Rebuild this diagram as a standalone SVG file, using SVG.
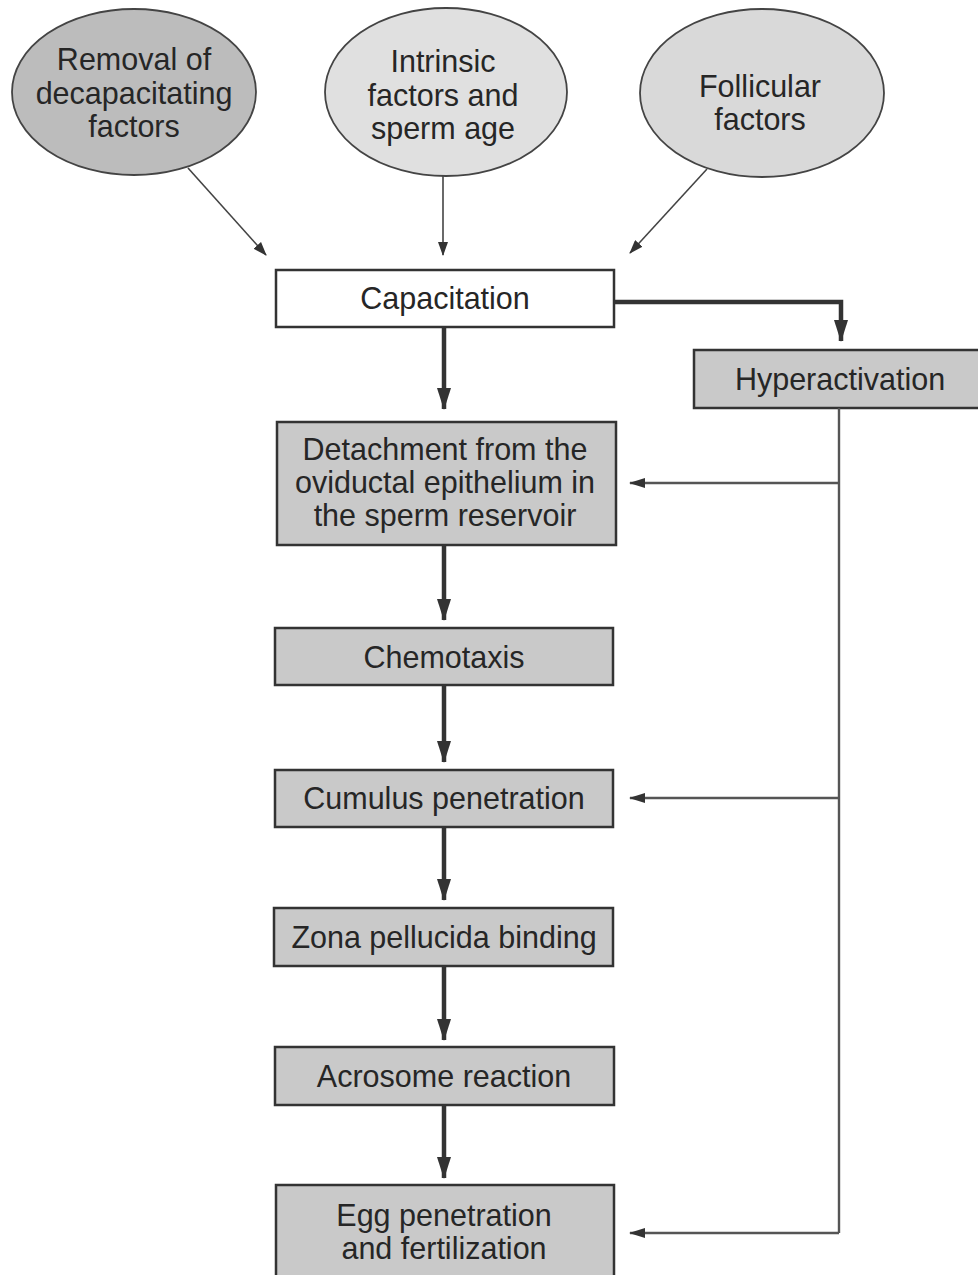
<svg xmlns="http://www.w3.org/2000/svg" width="978" height="1275" viewBox="0 0 978 1275">
<style>
text{font-family:"Liberation Sans",Arial,sans-serif;font-size:30.5px;fill:#262626;text-anchor:middle}
.box{fill:#c9c9c9;stroke:#333;stroke-width:2.5}
.ell{stroke:#444;stroke-width:1.8}
.thin{fill:none;stroke:#444;stroke-width:1.6;marker-end:url(#ah)}
.thick{fill:none;stroke:#333;stroke-width:4.5;marker-end:url(#ahb)}
.side{fill:none;stroke:#555;stroke-width:2.4}
.sidearr{fill:none;stroke:#555;stroke-width:2.4;marker-end:url(#ahs)}
</style>
<defs>
<marker id="ah" markerUnits="userSpaceOnUse" markerWidth="14" markerHeight="10" refX="13" refY="5" orient="auto"><path d="M0,0 L14,5 L0,10 z" fill="#333"/></marker>
<marker id="ahs" markerUnits="userSpaceOnUse" markerWidth="16" markerHeight="10" refX="15" refY="5" orient="auto"><path d="M0,0 L16,5 L0,10 z" fill="#333"/></marker>
<marker id="ahb" markerUnits="userSpaceOnUse" markerWidth="22" markerHeight="14" refX="21" refY="7" orient="auto"><path d="M0,0 L22,7 L0,14 z" fill="#333"/></marker>
</defs>
<rect width="978" height="1275" fill="#fff"/>
<g id="removal"><ellipse class="ell" cx="134" cy="92" rx="122" ry="83" fill="#bcbcbc"/><text x="134" y="70">Removal of</text><text x="134" y="104">decapacitating</text><text x="134" y="137">factors</text></g>
<g id="intrinsic"><ellipse class="ell" cx="446" cy="92" rx="121" ry="84" fill="#e0e0e0"/><text x="443" y="72">Intrinsic</text><text x="443" y="106">factors and</text><text x="443" y="139">sperm age</text></g>
<g id="follicular"><ellipse class="ell" cx="762" cy="93" rx="122" ry="84" fill="#d9d9d9"/><text x="760" y="97">Follicular</text><text x="760" y="130">factors</text></g>
<g id="capacitation"><rect x="276" y="270" width="338" height="57" fill="#fff" stroke="#333" stroke-width="2.5"/><text x="445" y="309">Capacitation</text></g>
<g id="hyperactivation"><rect class="box" x="694" y="350" width="300" height="58"/><text x="840" y="390">Hyperactivation</text></g>
<g id="detachment"><rect class="box" x="277" y="422" width="339" height="123"/><text x="445" y="460">Detachment from the</text><text x="445" y="493">oviductal epithelium in</text><text x="445" y="526">the sperm reservoir</text></g>
<g id="chemotaxis"><rect class="box" x="275" y="628" width="338" height="57"/><text x="444" y="668">Chemotaxis</text></g>
<g id="cumulus"><rect class="box" x="275" y="770" width="338" height="57"/><text x="444" y="809">Cumulus penetration</text></g>
<g id="zona"><rect class="box" x="274" y="908" width="339" height="58"/><text x="444" y="948">Zona pellucida binding</text></g>
<g id="acrosome"><rect class="box" x="275" y="1047" width="339" height="58"/><text x="444" y="1087">Acrosome reaction</text></g>
<g id="egg"><rect class="box" x="276" y="1185" width="338" height="110"/><text x="444" y="1226">Egg penetration</text><text x="444" y="1259">and fertilization</text></g>
<g id="connectors">
<path class="thin" d="M188,168 L266,255"/>
<path class="thin" d="M443,175 L443,255"/>
<path class="thin" d="M707,169 L630,253"/>
<path class="thick" d="M614,302 H841 V341"/>
<path class="thick" d="M444,327 V409"/>
<path class="thick" d="M444,545 V620"/>
<path class="thick" d="M444,685 V762"/>
<path class="thick" d="M444,827 V900"/>
<path class="thick" d="M444,966 V1040"/>
<path class="thick" d="M444,1105 V1178"/>
<path class="side" d="M839,408 V1233"/>
<path class="sidearr" d="M839,483 H630"/>
<path class="sidearr" d="M839,798 H630"/>
<path class="sidearr" d="M839,1233 H630"/>
</g>
</svg>
